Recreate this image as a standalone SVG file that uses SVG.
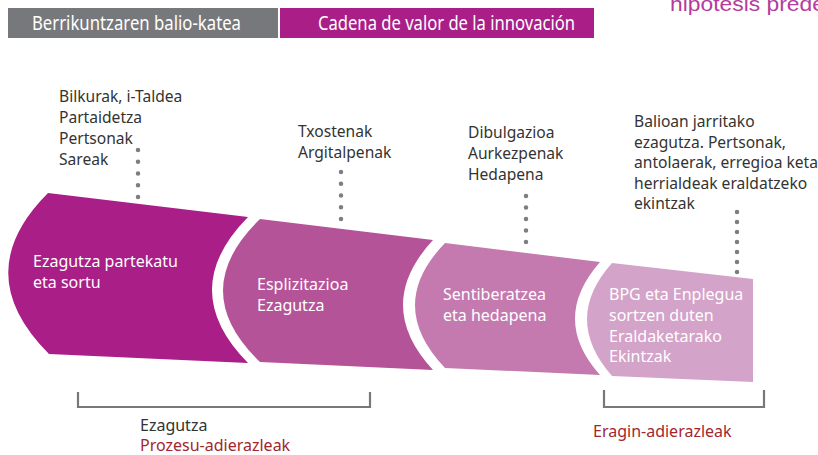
<svg xmlns="http://www.w3.org/2000/svg" width="818" height="455" viewBox="0 0 818 455">
<style>
.lbl{font-family:"Noto Sans","Open Sans",sans-serif;font-size:15.6px;fill:#333333}
.in{font-family:"Noto Sans","Open Sans",sans-serif;font-size:16px;fill:#ffffff}
.hd{font-family:"Noto Sans","Open Sans",sans-serif;font-size:20px;fill:#ffffff}
.red{fill:#A3262F}
.dots{stroke:#7d7d82;stroke-width:4.5;stroke-linecap:round;fill:none}
.br{stroke:#77787B;stroke-width:2.2;fill:none}
</style>
<rect width="818" height="455" fill="#ffffff"/>
<g id="header">
<rect x="8" y="8" width="270" height="30" fill="#77787B"/>
<rect x="280" y="8" width="314" height="30" fill="#AA1E87"/>
<text class="hd" x="32" y="30" textLength="209" lengthAdjust="spacingAndGlyphs">Berrikuntzaren balio-katea</text>
<text class="hd" x="318" y="30" textLength="257" lengthAdjust="spacingAndGlyphs">Cadena de valor de la innovación</text>
</g>
<text id="corner" x="670" y="11" font-family="'Liberation Sans',sans-serif" font-size="21" fill="#B43C9C" textLength="155" lengthAdjust="spacingAndGlyphs">hipótesis prede</text>
<g id="stage1">
<path d="M48,193 L248,217 Q176,290 248,363 L49,354 Q-32,273 48,193 Z" fill="#AA1E87"/>
<text class="in" x="33" y="267">Ezagutza partekatu</text>
<text class="in" x="33" y="288">eta sortu</text>
</g>
<g id="stage2">
<path d="M260,219 L433,240 Q373,305 433,370 L260,362 Q186,291 260,219 Z" fill="#B55399"/>
<text class="in" x="257" y="290">Esplizitazioa</text>
<text class="in" x="257" y="311">Ezagutza</text>
</g>
<g id="stage3">
<path d="M445,243 L600,262 Q550,319 600,375 L445,368 Q385,305 445,243 Z" fill="#C47AAF"/>
<text class="in" x="443" y="300">Sentiberatzea</text>
<text class="in" x="443" y="321">eta hedapena</text>
</g>
<g id="stage4">
<path d="M612,263 L753,279 L753,382 L612,376 Q562,319 612,263 Z" fill="#D4A3C9"/>
<text class="in" x="609" y="300">BPG eta Enplegua</text>
<text class="in" x="609" y="321">sortzen duten</text>
<text class="in" x="609" y="341.5">Eraldaketarako</text>
<text class="in" x="609" y="362">Ekintzak</text>
</g>
<g id="label1">
<text class="lbl" x="59" y="102">Bilkurak, i-Taldea</text>
<text class="lbl" x="59" y="123">Partaidetza</text>
<text class="lbl" x="59" y="144">Pertsonak</text>
<text class="lbl" x="59" y="165">Sareak</text>
</g>
<g id="label2">
<text class="lbl" x="298" y="137">Txostenak</text>
<text class="lbl" x="298" y="158">Argitalpenak</text>
</g>
<g id="label3">
<text class="lbl" x="468" y="138">Dibulgazioa</text>
<text class="lbl" x="468" y="159">Aurkezpenak</text>
<text class="lbl" x="468" y="180">Hedapena</text>
</g>
<g id="label4">
<text class="lbl" x="634" y="127">Balioan jarritako</text>
<text class="lbl" x="634" y="147.5">ezagutza. Pertsonak,</text>
<text class="lbl" x="634" y="168">antolaerak, erregioa keta</text>
<text class="lbl" x="634" y="188.5">herrialdeak eraldatzeko</text>
<text class="lbl" x="634" y="209">ekintzak</text>
</g>
<g id="connectors">
<line class="dots" x1="138" y1="150" x2="138" y2="197.1" stroke-dasharray="0 11.75"/>
<line class="dots" x1="341" y1="172" x2="341" y2="219.1" stroke-dasharray="0 11.75"/>
<line class="dots" x1="526" y1="196" x2="526" y2="242.1" stroke-dasharray="0 11.5"/>
<line class="dots" x1="737" y1="212" x2="737" y2="272.1" stroke-dasharray="0 10"/>
</g>
<g id="bracket-process">
<path class="br" d="M78,392 V407 H370 V392"/>
<text class="lbl" x="140" y="431" style="font-size:16px">Ezagutza</text>
<text class="lbl red" x="140" y="451" style="font-size:16px">Prozesu-adierazleak</text>
</g>
<g id="bracket-impact">
<path class="br" d="M604,390 V407 H764 V390"/>
<text class="lbl red" x="593" y="437" style="font-size:16px">Eragin-adierazleak</text>
</g>
</svg>
